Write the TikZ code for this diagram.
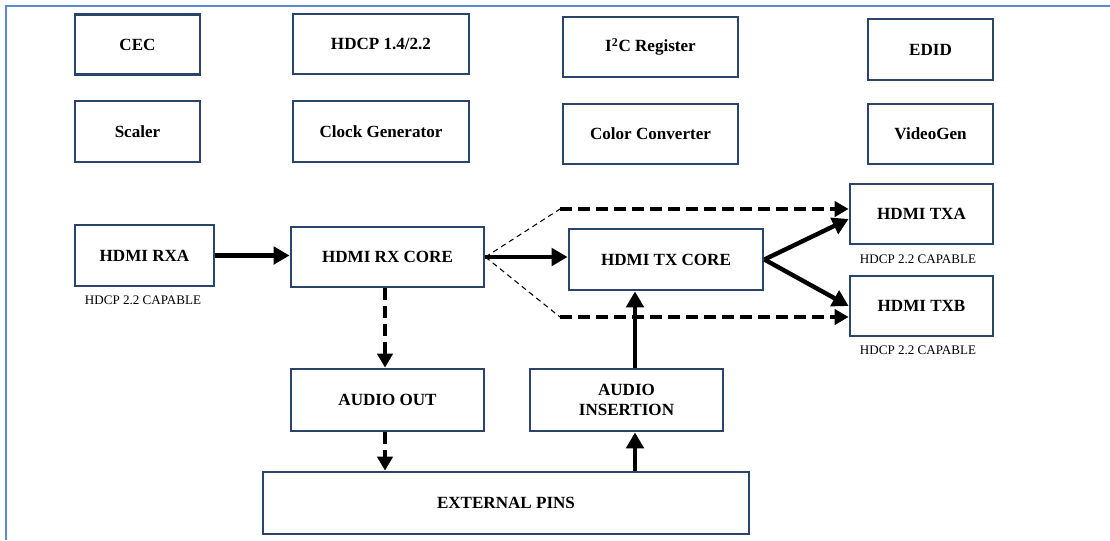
\documentclass[tikz,border=0pt]{standalone}
\usepackage{fontspec}
\setmainfont{Liberation Serif}
\usetikzlibrary{arrows.meta}
\definecolor{boxblue}{HTML}{2A4569}
\definecolor{framebl}{HTML}{5B8BCF}

\tikzset{
  blk/.style={draw=boxblue, line width=2.1pt, inner sep=0pt, align=center,
    font=\fontsize{12.8}{15}\selectfont\bfseries},
  sz/.style 2 args={minimum width=#1*0.75pt, minimum height=#2*0.75pt},
  capnote/.style={font=\fontsize{9.8}{11}\selectfont},
  arr/.style={line width=3.3pt, -{Triangle[length=12pt,width=13pt]}},
  darr/.style={line width=2.5pt, dash pattern=on 9pt off 4.5pt, -{Triangle[length=10.5pt,width=11.5pt]}},
  fan/.style={line width=0.8pt, dash pattern=on 4pt off 3pt}
}

\begin{document}
\begin{tikzpicture}[x=0.75pt, y=-0.75pt]

\useasboundingbox (0,0) rectangle (1110,540);
\draw[framebl, line width=1.8pt] (6,540) -- (6,6) -- (1112,6);

% blocks along the top
\node[blk, sz={125}{60}] (cec) at (137.5,44.5) {CEC};
\node[blk, sz={125}{61}] (scaler) at (137.5,131.5) {Scaler};
\node[blk, sz={176}{60}] (hdcp) at (381,44) {HDCP 1.4/2.2};
\node[blk, sz={176}{61}] (clk) at (381,131.5) {Clock Generator};
\node[blk, sz={175}{60}] (iic) at (650.5,47) {I\textsuperscript{2}C Register};
\node[blk, sz={175}{60}] (csc) at (650.5,134) {Color Converter};
\node[blk, sz={125}{61}] (edid) at (930.5,49.5) {EDID};
\node[blk, sz={125}{60}] (vgen) at (930.5,134) {VideoGen};

% data path
\node[blk, sz={139}{61}] (rxa) at (144.5,255.5) {HDMI RXA};
\node[blk, sz={193}{60}] (rxcore) at (387.5,257) {HDMI RX CORE};
\node[blk, sz={194}{61}] (txcore) at (666,259.5) {HDMI TX CORE};
\node[blk, sz={143}{60}] (txa) at (921.5,214) {HDMI TXA};
\node[blk, sz={143}{60}] (txb) at (921.5,306) {HDMI TXB};
\node[blk, sz={193}{62}] (aout) at (387.5,400) {AUDIO OUT};
\node[blk, sz={193}{62}] (ains) at (626.5,400) {AUDIO\\INSERTION};
\node[blk, sz={486}{62}] (pins) at (506,503) {EXTERNAL PINS};

\node[capnote] (rxacap) at (143,300) {HDCP 2.2 CAPABLE};
\node[capnote] (txacap) at (918,259) {HDCP 2.2 CAPABLE};
\node[capnote] (txbcap) at (918,350) {HDCP 2.2 CAPABLE};

% connectors
\draw[arr] (rxa.east) -- (rxcore.west |- rxa.east);
\draw[arr] (rxcore.east) -- (txcore.west |- rxcore.east);
\draw[arr] (txcore.east) -- ([yshift=-3.75pt]txa.west);
\draw[arr] (txcore.east) -- (txb.west);

\coordinate (ua) at (560,209);
\coordinate (lb) at (560,317);
\draw[fan] (rxcore.east) -- (ua);
\draw[darr] (ua) -- (txa.west |- ua);
\draw[fan] (rxcore.east) -- (lb);
\draw[darr] (lb) -- (txb.west |- lb);

\coordinate (dn) at (385,0);
\draw[darr] (rxcore.south -| dn) -- (aout.north -| dn);
\draw[darr] (aout.south -| dn) -- (pins.north -| dn);

\coordinate (up) at (635,0);
\draw[arr] (pins.north -| up) -- (ains.south -| up);
\draw[arr] (ains.north -| up) -- (txcore.south -| up);
\end{tikzpicture}
\end{document}
